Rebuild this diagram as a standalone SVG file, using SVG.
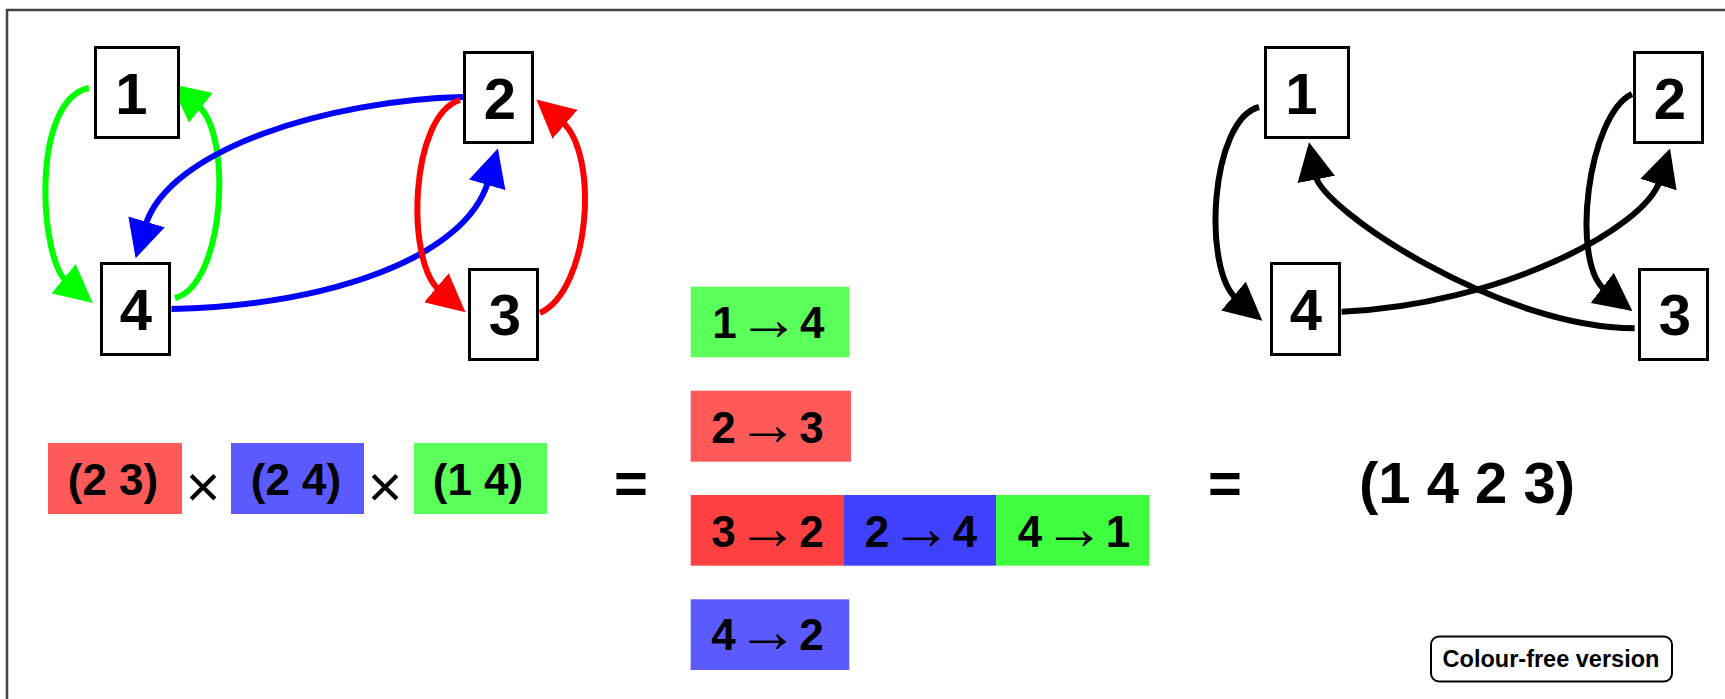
<svg xmlns="http://www.w3.org/2000/svg" width="1725" height="699" viewBox="0 0 1725 699">
<style>
.bx{fill:#fff;stroke:#000;stroke-width:3}
.dg{font-family:"Liberation Sans",Arial,sans-serif;font-weight:bold;font-size:58px;text-anchor:middle;fill:#000}
.lb{font-family:"Liberation Sans",Arial,sans-serif;font-weight:bold;font-size:44px;text-anchor:middle;fill:#000}
.lm{word-spacing:-11.5px}
.ar{font-family:"Liberation Serif","Times New Roman",serif;font-weight:normal;font-size:62px}
.big{font-family:"Liberation Sans",Arial,sans-serif;font-weight:bold;font-size:58px;text-anchor:middle;fill:#000}
.mul{font-family:"Liberation Sans",Arial,sans-serif;font-weight:normal;font-size:60px;text-anchor:middle;fill:#000}
.c{fill:none;stroke-width:6}
.g{stroke:#00ff00}.b{stroke:#0000ff}.r{stroke:#ff0000}.k{stroke:#000}
.lr{fill:#ff5a5a}.lbl{fill:#5a5aff}.lg{fill:#5aff5a}
.dr{fill:#ff4040}.db{fill:#4040ff}.dgr{fill:#40ff40}
</style>
<defs>
<marker id="mg" viewBox="0 0 38 38" refX="4" refY="19" markerWidth="38" markerHeight="38" markerUnits="userSpaceOnUse" orient="auto"><path d="M0,0 L38,19 L0,38 Z" fill="#00ff00"/></marker>
<marker id="mb" viewBox="0 0 38 38" refX="4" refY="19" markerWidth="38" markerHeight="38" markerUnits="userSpaceOnUse" orient="auto"><path d="M0,0 L38,19 L0,38 Z" fill="#0000ff"/></marker>
<marker id="mr" viewBox="0 0 38 38" refX="4" refY="19" markerWidth="38" markerHeight="38" markerUnits="userSpaceOnUse" orient="auto"><path d="M0,0 L38,19 L0,38 Z" fill="#ff0000"/></marker>
<marker id="mk" viewBox="0 0 38 38" refX="4" refY="19" markerWidth="38" markerHeight="38" markerUnits="userSpaceOnUse" orient="auto"><path d="M0,0 L38,19 L0,38 Z" fill="#000"/></marker>
</defs>
<rect width="1725" height="699" fill="#fff"/>
<path d="M7,699 V10 H1725" fill="none" stroke="#444" stroke-width="2.5"/>

<g id="connectors">
<path class="c g" d="M89,88 C30,100 39.7,259 66.6,281.3" marker-end="url(#mg)"/>
<path class="c g" d="M175,298 C225,285 232.8,133.5 197.7,105.3" marker-end="url(#mg)"/>
<path class="c b" d="M463,97 C330,100 168.4,149 145.4,225.7" marker-end="url(#mb)"/>
<path class="c b" d="M171.5,309 C330,305 465.7,257.7 488.3,181" marker-end="url(#mb)"/>
<path class="c r" d="M460,100 C410,115 405.1,261.2 439.5,290.3" marker-end="url(#mr)"/>
<path class="c r" d="M540,313 C590,290 599.8,154.45 562,121.7" marker-end="url(#mr)"/>
<path class="c k" d="M1259,107 C1210,120 1202.3,269.45 1236.5,298.7" marker-end="url(#mk)"/>
<path class="c k" d="M1632,94 C1588,115 1569.7,262.85 1605.4,290.3" marker-end="url(#mk)"/>
<path class="c k" d="M1634.6,328.3 C1500,328 1322.2,209.9 1315.5,175.5" marker-end="url(#mk)"/>
<path class="c k" d="M1341.6,311.7 C1500,305 1644.5,228.4 1659.7,180.8" marker-end="url(#mk)"/>
</g>

<g id="node-L1"><rect class="bx" x="95.5" y="47.5" width="83" height="90"/><text class="dg" x="131.5" y="114">1</text></g>
<g id="node-L2"><rect class="bx" x="464.5" y="52.5" width="68" height="90"/><text class="dg" x="500" y="119">2</text></g>
<g id="node-L4"><rect class="bx" x="101.5" y="263.5" width="68" height="91"/><text class="dg" x="136" y="330">4</text></g>
<g id="node-L3"><rect class="bx" x="469.5" y="269.5" width="68" height="90"/><text class="dg" x="505" y="335">3</text></g>

<g id="node-R1"><rect class="bx" x="1265.5" y="47.5" width="83" height="90"/><text class="dg" x="1301.5" y="114">1</text></g>
<g id="node-R2"><rect class="bx" x="1634.5" y="52.5" width="68" height="90"/><text class="dg" x="1670" y="119">2</text></g>
<g id="node-R4"><rect class="bx" x="1271.5" y="263.5" width="68" height="91"/><text class="dg" x="1306" y="330">4</text></g>
<g id="node-R3"><rect class="bx" x="1639.5" y="269.5" width="68" height="90"/><text class="dg" x="1675" y="335">3</text></g>

<g id="cycle-23"><rect class="lr" x="48" y="443" width="134" height="71"/><text class="lb" x="113" y="495">(2 3)</text></g>
<text class="mul" x="203" y="507">×</text>
<g id="cycle-24"><rect class="lbl" x="231" y="443" width="133" height="71"/><text class="lb" x="296" y="495">(2 4)</text></g>
<text class="mul" x="385" y="507">×</text>
<g id="cycle-14"><rect class="lg" x="414" y="443" width="133" height="71"/><text class="lb" x="478" y="495">(1 4)</text></g>
<text class="big" x="631" y="503">=</text>

<g id="map-1-4"><rect class="lg" x="690.7" y="286.7" width="158.6" height="70.6"/><text class="lb lm" x="768.4" y="338">1 <tspan class="ar" dy="2">→</tspan><tspan dy="-2"> 4</tspan></text></g>
<g id="map-2-3"><rect class="lr" x="690.7" y="390.7" width="160.3" height="71"/><text class="lb lm" x="767.5" y="443">2 <tspan class="ar" dy="2">→</tspan><tspan dy="-2"> 3</tspan></text></g>
<g id="map-3-2"><rect class="dr" x="690.7" y="495" width="153.3" height="70.7"/><text class="lb lm" x="767.5" y="546.7">3 <tspan class="ar" dy="2">→</tspan><tspan dy="-2"> 2</tspan></text></g>
<g id="map-2-4"><rect class="db" x="844" y="495" width="152" height="70.7"/><text class="lb lm" x="921" y="546.7">2 <tspan class="ar" dy="2">→</tspan><tspan dy="-2"> 4</tspan></text></g>
<g id="map-4-1"><rect class="dgr" x="996" y="495" width="153.3" height="70.7"/><text class="lb lm" x="1074" y="546.7">4 <tspan class="ar" dy="2">→</tspan><tspan dy="-2"> 1</tspan></text></g>
<g id="map-4-2"><rect class="lbl" x="690.7" y="599.3" width="158.6" height="70.7"/><text class="lb lm" x="767.5" y="650">4 <tspan class="ar" dy="2">→</tspan><tspan dy="-2"> 2</tspan></text></g>

<text class="big" x="1225" y="503">=</text>
<g id="result"><text class="big" x="1467" y="503">(1 4 2 3)</text></g>

<g id="button"><rect x="1431" y="636.5" width="241" height="45" rx="8" ry="8" fill="#fff" stroke="#000" stroke-width="2"/><text x="1551" y="666.7" font-family="Liberation Sans, Arial, sans-serif" font-weight="bold" font-size="23.5" text-anchor="middle">Colour-free version</text></g>
</svg>
